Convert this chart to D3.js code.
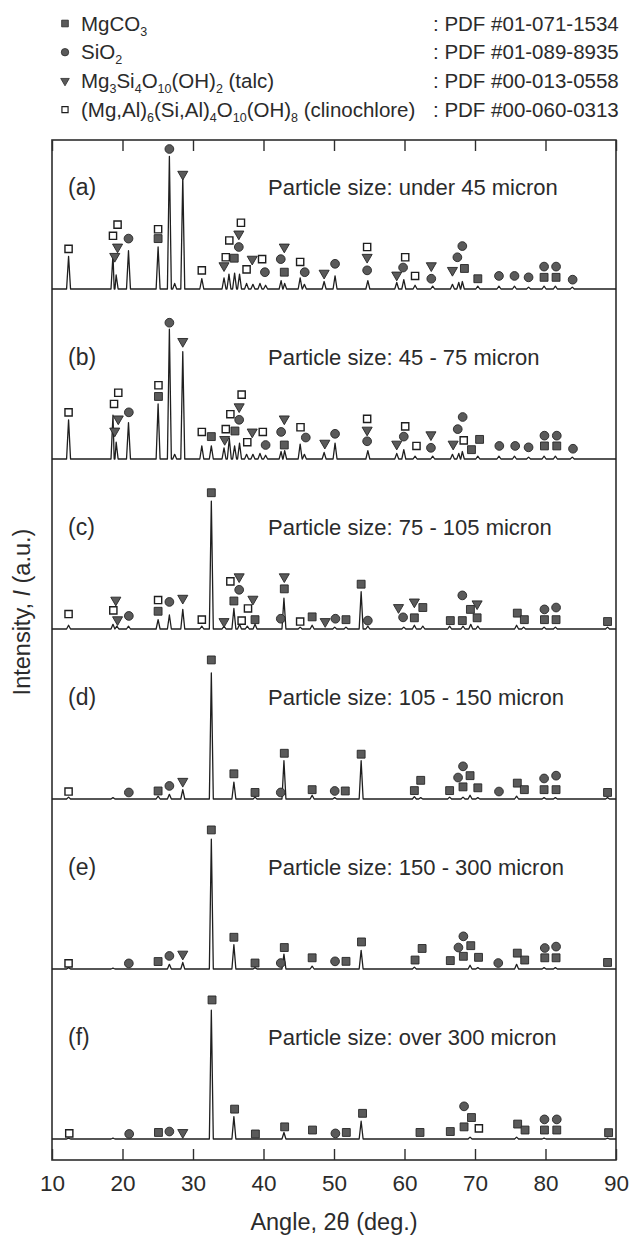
<!DOCTYPE html>
<html>
<head>
<meta charset="utf-8">
<script src="https://cdn.jsdelivr.net/npm/d3@7"></script>
<style>
  body { margin: 0; background: #fff; }
  text { font-family: "Liberation Sans", Arial, Helvetica, sans-serif; fill: #2b2b2b; white-space: pre; }
</style>
</head>
<body>
<svg id="chart"></svg>
<script>
// XRD patterns by particle size
// peaks: [2theta, intensity], marks: [phase, 2theta, marker height]
// phase codes: M = MgCO3, S = SiO2, T = talc, C = clinochlore

const angleTicks = [10, 20, 30, 40, 50, 60, 70, 80, 90];
const panelLabels = ['(a)', '(b)', '(c)', '(d)', '(e)', '(f)'];
const sizeLabels = [
  'Particle size: under 45 micron',
  'Particle size: 45 - 75 micron',
  'Particle size: 75 - 105 micron',
  'Particle size: 105 - 150 micron',
  'Particle size: 150 - 300 micron',
  'Particle size: over 300 micron',
];

const phaseCodes = ['M', 'S', 'T', 'C'];
const phaseNames = ['MgCO_3', 'SiO_2', 'Mg_3Si_4O_10(OH)_2 (talc)', '(Mg,Al)_6(Si,Al)_4O_10(OH)_8 (clinochlore)'];
const phasePdf = [': PDF #01-071-1534', ': PDF #01-089-8935', ': PDF #00-013-0558', ': PDF #00-060-0313'];

const peaksA = [[12.35,35],[18.65,37],[19.1,15],[20.85,41],[25.05,45],[26.65,142],[27.4,6],[28.55,120],[31.25,11],[34.4,12],[35.1,16],[35.9,17],[36.6,16],[37.6,6],[38.5,5],[39.5,6],[40.3,4],[42.5,9],[43.0,6],[45.2,12],[45.8,5],[48.6,8],[50.15,14],[54.8,9],[58.9,7],[59.9,10],[61.5,4],[64.0,3],[66.8,5],[67.7,7],[68.2,8],[70.4,3],[73.4,3],[75.6,3],[77.6,2],[79.8,3],[81.4,3],[83.8,2]];
const peaksB = [[12.35,42],[18.65,47],[19.1,18],[20.85,39],[25.05,59],[26.65,139],[27.4,5],[28.55,115],[31.25,14],[32.6,14],[34.4,12],[35.15,22],[35.9,14],[36.6,17],[37.6,5],[38.5,5],[39.5,6],[40.3,4],[42.5,8],[43.0,9],[45.2,16],[45.8,5],[48.6,7],[50.15,17],[54.8,9],[58.9,6],[59.9,10],[61.5,3],[64.0,3],[66.8,5],[67.7,6],[68.2,8],[70.4,3],[73.4,3],[75.6,3],[77.6,2],[79.8,3],[81.4,3],[83.8,2]];
const peaksC = [[12.35,4],[18.65,5],[19.2,3],[20.85,3],[25.05,10],[26.65,15],[28.55,21],[31.25,3],[32.6,137],[34.4,3],[35.8,22],[36.6,5],[37.7,3],[38.8,5],[42.9,33],[45.2,2],[46.9,4],[50.1,2],[51.7,2],[53.85,40],[54.8,3],[59.9,2],[61.4,4],[62.6,3],[66.4,3],[68.3,3],[69.4,5],[70.4,3],[75.9,4],[76.9,2],[79.8,2],[81.4,2],[88.8,2]];
const peaksD = [[12.35,2],[18.65,1.5],[25.05,3],[26.65,5],[28.55,10],[32.6,135],[35.8,18],[38.8,2],[42.9,41],[46.9,4],[50.1,1.5],[53.85,41],[61.4,2.5],[62.3,1.5],[66.4,2],[68.3,2],[69.3,4],[70.4,1.5],[75.9,3],[79.8,1.5],[81.4,1.5],[88.8,1.5]];
const peaksE = [[12.35,1.5],[18.65,1],[26.65,5],[28.55,7],[32.6,139],[35.8,26],[38.8,1.5],[42.9,16],[46.9,3],[53.85,20],[61.4,2],[69.3,4],[70.4,1.5],[75.9,5],[79.8,1.5],[81.4,1.5]];
const peaksF = [[12.35,1],[18.65,1],[32.6,138],[35.8,24],[42.9,7],[53.85,19],[69.3,2],[75.9,2],[79.8,1],[88.8,1]];

const marksA = [['C',12.35,43],['C',18.65,57],['C',19.3,69],['T',19.3,45],['T',18.9,35],['S',20.85,54],['M',25.05,54],['C',25.05,64],['S',26.65,150],['T',28.55,123],['C',31.25,20],['T',34.4,25],['C',34.65,34],['M',35.85,33],['C',35.15,52],['S',36.5,45],['T',36.5,59],['C',36.8,71],['C',37.6,21],['T',38.4,32],['C',39.8,32],['S',40.2,18],['S',42.45,32],['T',42.95,45],['M',42.95,18],['C',45.2,29],['S',45.85,18],['T',48.6,17],['S',50.15,27],['S',54.7,20],['T',54.7,34],['C',54.7,45],['T',58.9,15],['S',59.8,23],['C',60.1,34],['C',61.5,14],['S',63.8,11],['T',63.8,25],['T',66.8,20],['S',67.5,34],['S',68.2,46],['M',68.5,22],['M',70.4,11],['S',73.4,14],['S',75.6,14],['S',77.6,12.5],['S',79.8,24],['M',79.8,12.5],['S',81.5,24],['M',81.5,12.5],['S',83.85,10]];
const marksB = [['C',12.35,50],['T',18.9,30],['C',18.8,59],['C',19.4,71],['T',19.4,43],['S',20.9,50],['M',25.1,67],['C',25.1,79],['S',26.65,146],['T',28.55,126],['C',31.25,29],['M',32.6,24],['T',34.5,21],['C',34.65,32],['M',35.95,30],['C',35.3,48],['S',36.55,42],['T',36.55,56],['C',36.9,69],['C',37.7,18],['T',38.4,29],['C',39.9,29],['S',40.3,15],['S',42.5,29],['T',42.95,43],['M',42.95,15],['C',45.25,34],['S',46.0,23],['T',48.7,17],['S',50.15,27],['S',54.7,19],['T',54.7,31],['C',54.7,43],['T',58.9,16],['S',59.9,24],['C',60.1,35],['C',61.7,14],['S',63.75,12],['T',63.75,26],['T',66.9,16],['S',67.55,32],['S',68.25,45],['C',68.4,20],['M',69.5,10],['M',70.65,21],['S',73.45,14],['S',75.7,14],['S',77.6,12.5],['S',79.85,25],['M',79.85,14],['S',81.6,25],['M',81.6,14],['S',83.9,11]];
const marksC = [['C',12.35,16],['T',19.05,31],['C',18.7,20],['T',19.3,10],['S',20.9,14],['M',25.05,19],['C',25.05,31],['S',26.65,29],['T',28.55,33],['C',31.25,10],['M',32.6,146],['T',34.4,8],['M',35.8,30],['C',35.3,51],['T',36.55,56],['S',36.55,42],['C',36.9,9],['C',37.8,22],['T',38.5,32],['M',38.8,10],['S',42.45,11],['M',42.95,43],['T',42.95,56],['C',45.2,8],['M',46.9,13],['T',48.75,8],['S',50.2,11],['M',51.7,10],['M',53.85,48],['S',54.8,9],['T',59.15,23],['S',59.8,12.5],['M',61.4,12],['T',61.4,29],['M',62.6,23],['M',66.5,9],['M',68.2,9],['S',68.2,36],['M',69.35,21],['T',70.3,27],['M',70.3,12],['M',76.0,17],['M',77.0,10],['S',79.85,21],['M',79.85,10],['S',81.5,23],['M',81.5,10],['M',88.8,8]];
const marksD = [['C',12.35,8],['S',20.9,7],['M',25.05,8.6],['S',26.65,14],['T',28.55,19],['M',32.6,149],['M',35.8,27],['M',38.8,7],['S',42.45,7],['M',42.95,49],['M',46.9,10],['S',50.1,8.6],['M',51.6,8.6],['M',53.85,48],['M',61.4,9],['M',62.3,20],['M',66.4,9],['S',67.6,23],['S',68.3,35],['M',68.3,13],['M',69.3,25],['M',70.4,12],['S',73.4,8],['M',76.0,17],['M',77.0,10],['S',79.8,22],['M',79.8,10],['S',81.5,25],['M',81.5,10],['M',88.8,7]];
const marksE = [['C',12.35,6],['S',20.9,6],['M',25.05,8],['S',26.65,14],['T',28.55,16],['M',32.6,149],['M',35.8,34],['M',38.8,6.4],['S',42.45,6.4],['M',42.95,23],['M',46.9,12],['S',50.15,8.2],['M',51.7,8.2],['M',53.9,29],['M',61.5,9.6],['M',62.5,22],['M',66.5,9],['S',67.65,23],['S',68.35,35],['M',68.35,13.6],['M',69.4,25],['M',70.5,12.5],['S',73.3,6.4],['M',76.0,17],['M',77.05,9.6],['S',79.9,22.5],['M',79.9,12],['S',81.5,24],['M',81.5,12],['M',88.8,7]];
const marksF = [['C',12.45,6],['S',20.95,5.4],['M',25.1,7],['S',26.65,8],['T',28.55,7],['M',32.7,149],['M',35.9,32],['M',38.85,5.4],['M',43.0,13],['M',46.95,9.6],['S',50.2,6],['M',51.75,7],['M',54.05,27.5],['M',62.2,7],['M',66.5,8],['S',68.45,35],['M',69.5,23],['M',68.45,13],['C',70.55,11.4],['M',76.05,16],['M',77.1,9.6],['S',79.85,21],['M',79.85,9.6],['S',81.6,21],['M',81.6,9.6],['M',88.95,6.8]];

const allPeaks = [peaksA, peaksB, peaksC, peaksD, peaksE, peaksF];
const allMarks = [marksA, marksB, marksC, marksD, marksE, marksF];

const width = 629, height = 1239;
const box = { left: 52, right: 616, top: 140, bottom: 1160 };
const firstBase = 289, baseStep = 170;
const peakHalfWidth = 0.28;

const svg = d3.select('#chart').attr('width', width).attr('height', height);

const x = d3.scaleLinear().domain([10, 90]).range([box.left, box.right]);

// marker shapes
const symbolFor = {
  M: d3.symbol(d3.symbolSquare, 62),
  S: d3.symbol(d3.symbolCircle, 60),
  T: d3.symbol(d3.symbolTriangle, 44),
  C: d3.symbol(d3.symbolSquare, 52),
};
const darkFill = '#5a5a5a', darkStroke = '#262626';

function drawMarker(g, code, cx, cy, scale = 1) {
  const rot = code === 'T' ? ' rotate(180)' : '';
  g.append('path')
    .attr('d', symbolFor[code]())
    .attr('transform', `translate(${cx},${cy})${rot} scale(${scale})`)
    .attr('fill', code === 'C' ? '#fff' : darkFill)
    .attr('stroke', code === 'C' ? '#1e1e1e' : darkStroke)
    .attr('stroke-width', code === 'C' ? 1.4 : 0.9);
}

// text with _n subscripts
function subText(sel, str, size, subSize) {
  const parts = str.split(/_(\d+)/);
  parts.forEach((p, i) => {
    const isSub = i % 2 === 1;
    const t = sel.append('tspan').text(p);
    if (isSub) t.attr('font-size', subSize).attr('dy', 5);
    else if (i > 0) t.attr('font-size', size).attr('dy', -5);
  });
}

// Legend
const legend = svg.append('g');
phaseCodes.forEach((code, i) => {
  const cy = 23.5 + i * 28.7;
  drawMarker(legend, code, 65, cy, 0.85);
  const t = legend.append('text')
    .attr('x', 81).attr('y', cy + 7)
    .attr('font-size', '20.5px');
  subText(t, phaseNames[i], '20.5px', '12.5px');
  legend.append('text')
    .attr('x', 433).attr('y', cy + 7)
    .attr('font-size', '20.5px')
    .text(phasePdf[i]);
});

// Frame
svg.append('rect')
  .attr('x', box.left).attr('y', box.top)
  .attr('width', box.right - box.left).attr('height', box.bottom - box.top)
  .attr('fill', 'none').attr('stroke', '#2e2e2e').attr('stroke-width', 1.6);

// Axes (inward ticks)
const bottomAxis = svg.append('g')
  .attr('transform', `translate(0,${box.bottom})`)
  .call(d3.axisBottom(x).tickValues(angleTicks).tickSize(-11).tickPadding(15).tickFormat(d3.format('d')));
bottomAxis.select('.domain').remove();
bottomAxis.selectAll('line').attr('stroke', '#2e2e2e').attr('stroke-width', 1.4);
bottomAxis.selectAll('text')
  .attr('font-size', '22.5px')
  .attr('font-family', '"Liberation Sans", Arial, sans-serif')
  .attr('fill', '#2b2b2b');

const topAxis = svg.append('g')
  .attr('transform', `translate(0,${box.top})`)
  .call(d3.axisTop(x).tickValues(angleTicks).tickSize(-11).tickFormat(''));
topAxis.select('.domain').remove();
topAxis.selectAll('line').attr('stroke', '#2e2e2e').attr('stroke-width', 1.4);

// Axis titles
svg.append('text')
  .attr('x', (box.left + box.right) / 2).attr('y', 1230)
  .attr('text-anchor', 'middle')
  .attr('font-size', '23.5px')
  .text('Angle, 2θ (deg.)');

const yTitle = svg.append('text')
  .attr('transform', 'translate(30,612) rotate(-90)')
  .attr('text-anchor', 'middle')
  .attr('font-size', '23.5px');
yTitle.append('tspan').text('Intensity, ');
yTitle.append('tspan').attr('font-style', 'italic').text('I');
yTitle.append('tspan').text(' (a.u.)');

// Patterns
const line = d3.line().x(d => x(d[0]));

allPeaks.forEach((peaks, i) => {
  const base = firstBase + i * baseStep;
  const y = d3.scaleLinear().domain([0, 150]).range([base, base - 140]);
  const g = svg.append('g');

  // trace: baseline with a spike at every read peak
  const pts = [[10, 0]];
  peaks.forEach(([p, h]) => {
    pts.push([p - peakHalfWidth, 0], [p, h], [p + peakHalfWidth, 0]);
  });
  pts.push([90, 0]);
  pts.sort((a, b) => a[0] - b[0]);

  g.append('path')
    .datum(pts)
    .attr('fill', 'none')
    .attr('stroke', '#1f1f1f')
    .attr('stroke-width', 1.3)
    .attr('stroke-linejoin', 'round')
    .attr('d', line.y(d => y(d[1])));

  allMarks[i].forEach(([code, a, h]) => drawMarker(g, code, x(a), y(h)));

  g.append('text')
    .attr('x', 68).attr('y', base - 102).attr('dy', '0.35em')
    .attr('font-size', '23px')
    .text(panelLabels[i]);

  g.append('text')
    .attr('x', 268).attr('y', base - 102).attr('dy', '0.35em')
    .attr('font-size', '22px')
    .text(sizeLabels[i]);
});
</script>
</body>
</html>
